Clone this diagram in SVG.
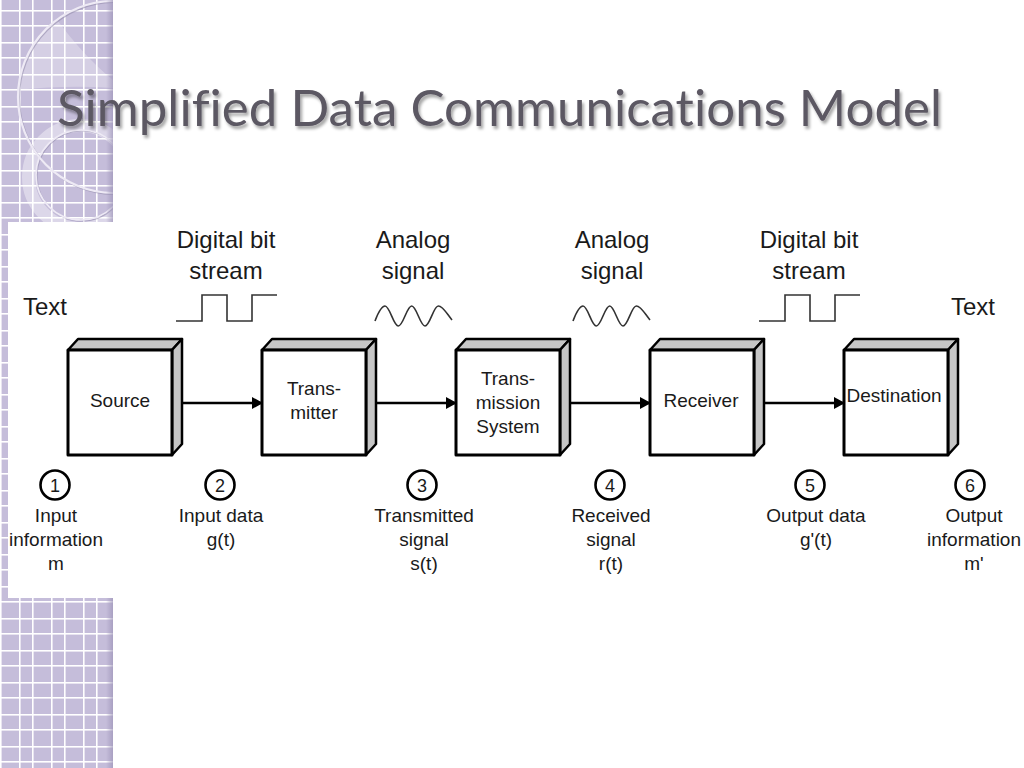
<svg xmlns="http://www.w3.org/2000/svg" width="1024" height="768" viewBox="0 0 1024 768">
<defs>
<pattern id="grid" x="0" y="0" width="32" height="32" patternUnits="userSpaceOnUse">
<rect width="32" height="32" fill="#c5bdda"/>
<rect x="0" y="0" width="1.6" height="32" fill="#ffffff"/>
<rect x="19" y="0" width="1.6" height="32" fill="#ffffff"/>
<rect x="0" y="10" width="32" height="1.6" fill="#ffffff"/>
<rect x="0" y="25" width="32" height="1.6" fill="#ffffff"/>
</pattern>
<linearGradient id="edge" x1="0" y1="0" x2="1" y2="0">
<stop offset="0" stop-color="#9d94b8" stop-opacity="0"/>
<stop offset="1" stop-color="#9d94b8" stop-opacity="0.7"/>
</linearGradient>
<clipPath id="panelClip"><rect x="0" y="0" width="113" height="768"/></clipPath>
<clipPath id="bigCircle"><circle cx="114" cy="97" r="96"/></clipPath>
<filter id="shadow" x="-5%" y="-20%" width="110%" height="150%">
<feDropShadow dx="2" dy="3" stdDeviation="1.6" flood-color="#000000" flood-opacity="0.35"/>
</filter>
<marker id="arrow" markerWidth="12" markerHeight="12" refX="10" refY="6" orient="auto" markerUnits="userSpaceOnUse">
<path d="M0,0 L11,6 L0,12 Z" fill="#000000"/>
</marker>
<style>
.face{fill:#ffffff;stroke:#000000;stroke-width:3;stroke-linejoin:round}
.shade{fill:#c6c6c6;stroke:#000000;stroke-width:2.5;stroke-linejoin:round}
.boxtxt{font-family:"Liberation Sans",Arial,sans-serif;font-size:19px;fill:#1a1a1a;text-anchor:middle}
.big{font-family:"Liberation Sans",Arial,sans-serif;font-size:24px;fill:#1a1a1a;text-anchor:middle}
.lab{font-family:"Liberation Sans",Arial,sans-serif;font-size:19px;fill:#1a1a1a;text-anchor:middle}
.num{font-family:"Liberation Sans",Arial,sans-serif;font-size:18px;fill:#1a1a1a;text-anchor:middle}
.ring{fill:#ffffff;stroke:#000000;stroke-width:2.6}
.wave{fill:none;stroke:#333333;stroke-width:1.6}
.conn{stroke:#000000;stroke-width:2.6;fill:none}
.title{font-family:Lato,"Open Sans",sans-serif;font-size:51px;fill:#5c5863;font-variant-ligatures:none;font-feature-settings:"liga" 0,"clig" 0,"dlig" 0}
</style>
</defs>

<rect x="0" y="0" width="1024" height="768" fill="#ffffff"/>

<g id="panel" clip-path="url(#panelClip)">
<rect x="0" y="0" width="113" height="768" fill="url(#grid)"/>
<g clip-path="url(#bigCircle)">
<path d="M0,0 L43,0 Q78,52 113,80 L113,88 Q60,84 0,92 Z" fill="#ffffff" fill-opacity="0.28"/>
</g>
<circle cx="80" cy="177" r="51.5" fill="none" stroke="#ffffff" stroke-opacity="0.4" stroke-width="13"/>
<circle cx="81" cy="175" r="45" fill="none" stroke="#8e86a8" stroke-opacity="0.5" stroke-width="1.2" transform="translate(1,1)"/>
<circle cx="81" cy="175" r="45" fill="none" stroke="#eeeaf5" stroke-width="1.6"/>
<circle cx="115" cy="98" r="96" fill="none" stroke="#8e86a8" stroke-opacity="0.55" stroke-width="2"/>
<circle cx="114" cy="97" r="96" fill="none" stroke="#eeeaf5" stroke-width="2.2"/>
<rect x="106" y="0" width="7" height="768" fill="url(#edge)"/>
</g>

<text id="title" class="title" x="57" y="126" textLength="885" lengthAdjust="spacingAndGlyphs" filter="url(#shadow)">Simplified Data Communications Model</text>

<rect x="8" y="222" width="1016" height="376" fill="#ffffff"/>

<g id="top-labels">
<text class="big" x="23" y="315" style="text-anchor:start">Text</text>
<text class="big" x="226" y="248">Digital bit</text>
<text class="big" x="226" y="279">stream</text>
<text class="big" x="413" y="248">Analog</text>
<text class="big" x="413" y="279">signal</text>
<text class="big" x="612" y="248">Analog</text>
<text class="big" x="612" y="279">signal</text>
<text class="big" x="809" y="248">Digital bit</text>
<text class="big" x="809" y="279">stream</text>
<text class="big" x="951" y="315" style="text-anchor:start">Text</text>
</g>

<g id="waveforms">
<path class="wave" d="M176,321 H202 V295 H227 V321 H252 V295 H277"/>
<path class="wave" d="M759,321 H785 V295 H810 V321 H835 V295 H860"/>
<path id="sine1" class="wave" d="M375,321 C378,313 381,306 385,306 C389.9,306 393.5,326 398.3,326 C403.2,326 406.8,306 411.7,306 C416.5,306 420.2,326 425,326 C429.9,326 433.5,306 438.3,306 C443,306 447,314 452,320"/>
<path class="wave" transform="translate(198,0)" d="M375,321 C378,313 381,306 385,306 C389.9,306 393.5,326 398.3,326 C403.2,326 406.8,306 411.7,306 C416.5,306 420.2,326 425,326 C429.9,326 433.5,306 438.3,306 C443,306 447,314 452,320"/>
</g>

<g id="connectors">
<line class="conn" x1="175" y1="403" x2="262" y2="403" marker-end="url(#arrow)"/>
<line class="conn" x1="369" y1="403" x2="456" y2="403" marker-end="url(#arrow)"/>
<line class="conn" x1="563" y1="403" x2="650" y2="403" marker-end="url(#arrow)"/>
<line class="conn" x1="757" y1="403" x2="844" y2="403" marker-end="url(#arrow)"/>
</g>

<g id="source">
<polygon class="shade" points="68,350 78,339 182,339 172,350"/>
<polygon class="shade" points="172,350 182,339 182,444 172,455"/>
<rect class="face" x="68" y="350" width="104" height="105"/>
<text class="boxtxt" x="120" y="407">Source</text>
</g>
<g id="transmitter">
<polygon class="shade" points="262,350 272,339 376,339 366,350"/>
<polygon class="shade" points="366,350 376,339 376,444 366,455"/>
<rect class="face" x="262" y="350" width="104" height="105"/>
<text class="boxtxt" x="314" y="395">Trans-</text>
<text class="boxtxt" x="314" y="419">mitter</text>
</g>
<g id="transmission-system">
<polygon class="shade" points="456,350 466,339 570,339 560,350"/>
<polygon class="shade" points="560,350 570,339 570,444 560,455"/>
<rect class="face" x="456" y="350" width="104" height="105"/>
<text class="boxtxt" x="508" y="385">Trans-</text>
<text class="boxtxt" x="508" y="409">mission</text>
<text class="boxtxt" x="508" y="433">System</text>
</g>
<g id="receiver">
<polygon class="shade" points="650,350 660,339 764,339 754,350"/>
<polygon class="shade" points="754,350 764,339 764,444 754,455"/>
<rect class="face" x="650" y="350" width="104" height="105"/>
<text class="boxtxt" x="701" y="407">Receiver</text>
</g>
<g id="destination">
<polygon class="shade" points="844,350 854,339 958,339 948,350"/>
<polygon class="shade" points="948,350 958,339 958,444 948,455"/>
<rect class="face" x="844" y="350" width="104" height="105"/>
<text class="boxtxt" x="894" y="402">Destination</text>
</g>

<g id="point-1">
<circle class="ring" cx="55" cy="485" r="14.5"/>
<text class="num" x="55" y="491.5">1</text>
<text class="lab" x="56" y="522">Input</text>
<text class="lab" x="56" y="546">information</text>
<text class="lab" x="56" y="570">m</text>
</g>
<g id="point-2">
<circle class="ring" cx="220" cy="485" r="14.5"/>
<text class="num" x="220" y="491.5">2</text>
<text class="lab" x="221" y="522">Input data</text>
<text class="lab" x="221" y="546">g(t)</text>
</g>
<g id="point-3">
<circle class="ring" cx="422" cy="485" r="14.5"/>
<text class="num" x="422" y="491.5">3</text>
<text class="lab" x="424" y="522">Transmitted</text>
<text class="lab" x="424" y="546">signal</text>
<text class="lab" x="424" y="570">s(t)</text>
</g>
<g id="point-4">
<circle class="ring" cx="610" cy="485" r="14.5"/>
<text class="num" x="610" y="491.5">4</text>
<text class="lab" x="611" y="522">Received</text>
<text class="lab" x="611" y="546">signal</text>
<text class="lab" x="611" y="570">r(t)</text>
</g>
<g id="point-5">
<circle class="ring" cx="810" cy="485" r="14.5"/>
<text class="num" x="810" y="491.5">5</text>
<text class="lab" x="816" y="522">Output data</text>
<text class="lab" x="816" y="546">g'(t)</text>
</g>
<g id="point-6">
<circle class="ring" cx="970" cy="485" r="14.5"/>
<text class="num" x="970" y="491.5">6</text>
<text class="lab" x="974" y="522">Output</text>
<text class="lab" x="974" y="546">information</text>
<text class="lab" x="974" y="570">m'</text>
</g>
</svg>
